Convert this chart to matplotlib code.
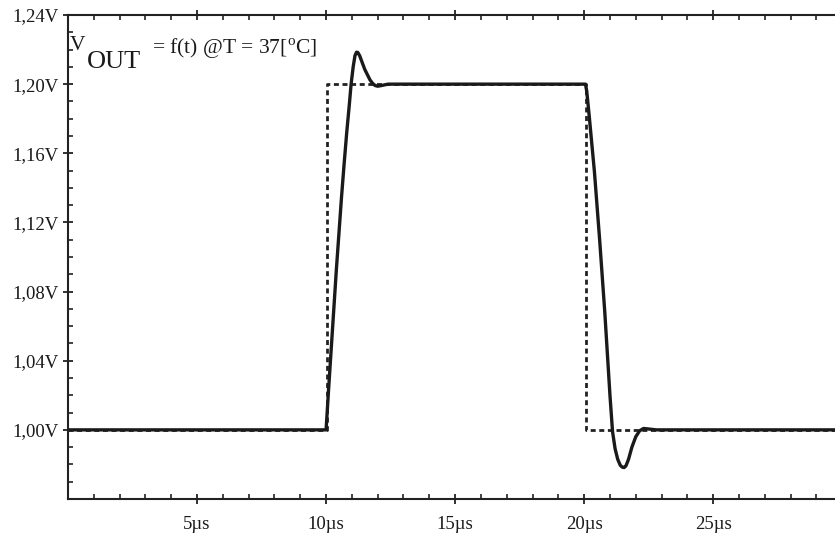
import matplotlib
matplotlib.use('Agg')
import matplotlib.pyplot as plt
from matplotlib.ticker import MultipleLocator, FixedLocator

plt.rcParams['font.family'] = ['Liberation Serif', 'DejaVu Serif']
plt.rcParams['mathtext.fontset'] = 'custom'
plt.rcParams['mathtext.rm'] = 'Liberation Serif'

# idealny sygnal wejsciowy (linia kreskowana)
t_in = [0.0, 10.05, 10.05, 20.08, 20.08, 29.8]
v_in = [1.000, 1.000, 1.200, 1.200, 1.000, 1.000]

# odpowiedz ukladu (linia ciagla)
t_out = [0.0, 10.0, 10.1, 10.2, 10.3, 10.4, 10.5, 10.6, 10.7, 10.8, 10.9,
         10.97, 11.05, 11.12, 11.18, 11.23, 11.3, 11.4, 11.5, 11.6, 11.7,
         11.8, 11.9, 12.0, 12.15, 12.4,
         20.05, 20.1, 20.2, 20.4, 20.6, 20.8, 21.0, 21.1, 21.2, 21.3, 21.4,
         21.48, 21.55, 21.62, 21.72, 21.85, 22.0, 22.15, 22.3, 22.5, 22.8, 29.8]
v_out = [1.000, 1.000, 1.024, 1.047, 1.070, 1.093, 1.114, 1.135, 1.154, 1.172, 1.188,
         1.200, 1.210, 1.2165, 1.2185, 1.2183, 1.2165, 1.2125, 1.2085, 1.2055, 1.2025,
         1.2005, 1.1992, 1.1988, 1.1992, 1.200,
         1.200, 1.196, 1.181, 1.149, 1.110, 1.068, 1.020, 0.999, 0.989, 0.983, 0.9795,
         0.9784, 0.9782, 0.9792, 0.983, 0.990, 0.996, 0.9995, 1.0008, 1.0005, 1.000, 1.000]

y_major = [1.00, 1.04, 1.08, 1.12, 1.16, 1.20, 1.24]
y_labels = ['1,00V', '1,04V', '1,08V', '1,12V', '1,16V', '1,20V', '1,24V']
x_major = [5, 10, 15, 20, 25]
x_labels = ['5µs', '10µs', '15µs', '20µs', '25µs']

W, H = 835, 534
fig = plt.figure(figsize=(W / 100, H / 100), dpi=100)
ax = fig.add_axes([68 / W, 1 - 499 / H, 1 - 68 / W, (499 - 15) / H])

ax.plot(t_in, v_in, color='#222222', lw=2.0, linestyle=(0, (1.8, 1.3)), dash_capstyle='butt')
ax.plot(t_out, v_out, color='#1a1a1a', lw=2.4, solid_joinstyle='round')

ax.set_xlim(0, 29.72)
ax.set_ylim(0.96, 1.24)

ax.yaxis.set_major_locator(FixedLocator(y_major))
ax.set_yticklabels(y_labels)
ax.yaxis.set_minor_locator(MultipleLocator(0.01))
ax.xaxis.set_major_locator(FixedLocator(x_major))
ax.set_xticklabels(x_labels)
ax.xaxis.set_minor_locator(MultipleLocator(1))

for s in ['left', 'bottom', 'top']:
    ax.spines[s].set_linewidth(1.5)
    ax.spines[s].set_color('#222222')
ax.spines['right'].set_visible(False)

ax.tick_params(which='major', direction='inout', length=7, width=1.3, colors='#222222',
               labelsize=13.5, labelcolor='#1a1a1a')
ax.tick_params(which='minor', direction='in', length=3.5, width=1.2, colors='#222222')
ax.tick_params(axis='x', which='both', top=True)
ax.tick_params(axis='x', which='major', pad=9)
ax.tick_params(axis='y', which='major', pad=3)
ax.tick_params(axis='x', which='major', labeltop=False)

# napis z opisem
fig.text(70 / W, 1 - 50 / H, 'V', fontsize=15.5, va='baseline', ha='left', color='#1a1a1a')
fig.text(87 / W, 1 - 68 / H, 'OUT', fontsize=19, va='baseline', ha='left', color='#1a1a1a')
fig.text(152 / W, 1 - 54 / H, r'= f(t) @T = 37[$^{\rm o}$C]', fontsize=15.5, va='baseline',
         ha='left', color='#1a1a1a')

fig.savefig('out.png', dpi=100)
